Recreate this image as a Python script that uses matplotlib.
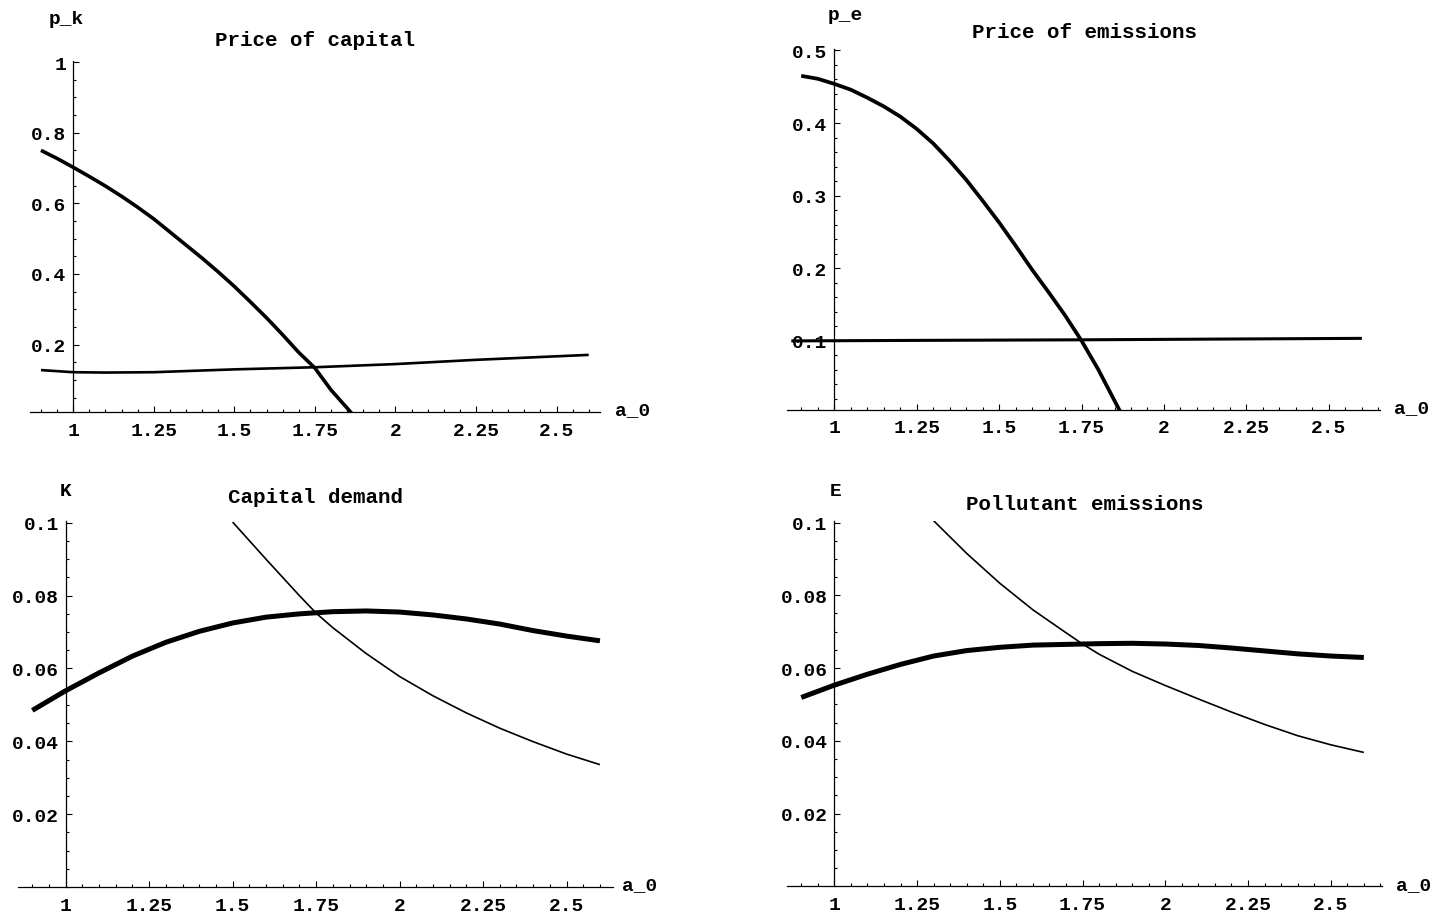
import matplotlib
matplotlib.use("Agg")
import matplotlib.pyplot as plt
from matplotlib.ticker import MultipleLocator

plt.rcParams['font.family'] = ['Liberation Mono', 'DejaVu Sans Mono']
plt.rcParams['font.weight'] = 'bold'
plt.rcParams['lines.solid_joinstyle'] = 'round'
plt.rcParams['lines.solid_capstyle'] = 'butt'

# shared x axis (a_0)
x_ticks = [1, 1.25, 1.5, 1.75, 2, 2.25, 2.5]
x_labels = ["1", "1.25", "1.5", "1.75", "2", "2.25", "2.5"]

# price of capital p_k
pk_a = [0.9, 0.95, 1.0, 1.05, 1.1, 1.15, 1.2, 1.25, 1.3, 1.35, 1.4, 1.45, 1.5,
        1.55, 1.6, 1.65, 1.7, 1.75, 1.8, 1.87]
pk_main = [0.750, 0.727, 0.702, 0.676, 0.649, 0.620, 0.589, 0.556, 0.519, 0.482, 0.445,
           0.406, 0.365, 0.321, 0.276, 0.228, 0.178, 0.134, 0.072, 0.0]
pk_flat_a = [0.9, 1.0, 1.1, 1.25, 1.5, 1.75, 2.0, 2.25, 2.5, 2.6]
pk_flat = [0.128, 0.122, 0.121, 0.122, 0.130, 0.136, 0.145, 0.157, 0.167, 0.171]

# price of emissions p_e
pe_a = [0.9, 0.95, 1.0, 1.05, 1.1, 1.15, 1.2, 1.25, 1.3, 1.35, 1.4, 1.45, 1.5,
        1.55, 1.6, 1.65, 1.7, 1.75, 1.8, 1.87]
pe_main = [0.465, 0.461, 0.454, 0.446, 0.435, 0.423, 0.409, 0.392, 0.372, 0.348, 0.322,
           0.293, 0.263, 0.231, 0.198, 0.167, 0.135, 0.100, 0.061, 0.0]
pe_flat_a = [0.87, 1.25, 1.75, 2.25, 2.6]
pe_flat = [0.0998, 0.1005, 0.1013, 0.1025, 0.1033]

# capital demand K
k_a = [0.9, 1.0, 1.1, 1.2, 1.3, 1.4, 1.5, 1.6, 1.7, 1.8, 1.9, 2.0, 2.1, 2.2, 2.3, 2.4, 2.5, 2.6]
k_thick = [0.0485, 0.0539, 0.0588, 0.0634, 0.0672, 0.0702, 0.0725, 0.0741, 0.0750, 0.0756,
           0.0758, 0.0755, 0.0747, 0.0736, 0.0722, 0.0704, 0.0689, 0.0676]
k_thin_a = [1.5, 1.6, 1.7, 1.75, 1.8, 1.9, 2.0, 2.1, 2.2, 2.3, 2.4, 2.5, 2.6]
k_thin = [0.1002, 0.0900, 0.0800, 0.0752, 0.0712, 0.0641, 0.0578, 0.0525, 0.0478, 0.0436,
          0.0399, 0.0365, 0.0336]

# pollutant emissions E
e_a = [0.9, 1.0, 1.1, 1.2, 1.3, 1.4, 1.5, 1.6, 1.7, 1.8, 1.9, 2.0, 2.1, 2.2, 2.3, 2.4, 2.5, 2.6]
e_thick = [0.0519, 0.0553, 0.0583, 0.0610, 0.0633, 0.0648, 0.0657, 0.0663, 0.0665, 0.0667,
           0.0668, 0.0666, 0.0662, 0.0655, 0.0647, 0.0639, 0.0633, 0.0629]
e_thin_a = [1.3, 1.4, 1.5, 1.6, 1.7, 1.75, 1.8, 1.9, 2.0, 2.1, 2.2, 2.3, 2.4, 2.5, 2.6]
e_thin = [0.1005, 0.0915, 0.0833, 0.0760, 0.0697, 0.0666, 0.0638, 0.0591, 0.0552, 0.0515,
          0.0479, 0.0445, 0.0414, 0.0389, 0.0368]

W, H = 1453, 920
fig = plt.figure(figsize=(W / 100, H / 100), dpi=100)


def px_axes(x0, y0, x1, y1):
    # axes box from pixel corners (top-left origin)
    return fig.add_axes([x0 / W, 1 - y1 / H, (x1 - x0) / W, (y1 - y0) / H])


def style(ax, xlim, ylim, yticks, ylabels, yminor):
    ax.set_xlim(*xlim)
    ax.set_ylim(*ylim)
    ax.patch.set_visible(False)
    for s in ['top', 'right']:
        ax.spines[s].set_visible(False)
    ax.spines['left'].set_position(('data', 1.0))
    for s in ['left', 'bottom']:
        ax.spines[s].set_linewidth(0.9)
    ax.set_xticks(x_ticks, x_labels)
    ax.set_yticks(yticks, ylabels)
    ax.xaxis.set_minor_locator(MultipleLocator(0.05))
    ax.yaxis.set_minor_locator(MultipleLocator(yminor))
    ax.tick_params(which='both', direction='in', width=0.8, labelsize=14)
    ax.tick_params(which='major', length=4)
    ax.tick_params(which='minor', length=2)
    ax.tick_params(axis='x', pad=7)
    ax.tick_params(axis='y', pad=5)


def label(x, y, s, size=14):
    fig.text(x / W, 1 - y / H, s, ha='center', va='center', fontsize=size)


# top left: price of capital
ax1 = px_axes(30, 61.6, 600, 413.3)
ax1.plot(pk_a, pk_main, color='black', lw=2.6)
ax1.plot(pk_flat_a, pk_flat, color='black', lw=1.9)
style(ax1, (0.866, 2.635), (0.0085, 1.004), [0.2, 0.4, 0.6, 0.8, 1],
      ["0.2", "0.4", "0.6", "0.8", "1"], 0.05)
label(66, 20, "p_k")
label(315, 40, "Price of capital", 15)
label(633, 411, "a_0")

# top right: price of emissions
ax2 = px_axes(786.7, 50, 1380, 410.7)
ax2.plot(pe_a, pe_main, color='black', lw=2.7)
ax2.plot(pe_flat_a, pe_flat, color='black', lw=2.2)
style(ax2, (0.856, 2.655), (0.005, 0.502), [0.1, 0.2, 0.3, 0.4, 0.5],
      ["0.1", "0.2", "0.3", "0.4", "0.5"], 0.02)
label(845, 15, "p_e")
label(1084, 33, "Price of emissions", 15)
label(1412, 409, "a_0")

# bottom left: capital demand
ax3 = px_axes(18.3, 522, 613.3, 888)
ax3.plot(k_a, k_thick, color='black', lw=3.6)
ax3.plot(k_thin_a, k_thin, color='black', lw=1.2)
style(ax3, (0.858, 2.64), (0.0, 0.1005), [0.02, 0.04, 0.06, 0.08, 0.1],
      ["0.02", "0.04", "0.06", "0.08", "0.1"], 0.005)
label(66, 492, "K")
label(316, 498, "Capital demand", 15)
label(640, 886, "a_0")

# bottom right: pollutant emissions
ax4 = px_axes(786.7, 521.7, 1381.7, 887.3)
ax4.plot(e_a, e_thick, color='black', lw=3.6)
ax4.plot(e_thin_a, e_thin, color='black', lw=1.2)
style(ax4, (0.856, 2.654), (0.0, 0.1005), [0.02, 0.04, 0.06, 0.08, 0.1],
      ["0.02", "0.04", "0.06", "0.08", "0.1"], 0.005)
label(836, 492, "E")
label(1085, 505, "Pollutant emissions", 15)
label(1414, 886, "a_0")

fig.savefig('out.png', dpi=100)
